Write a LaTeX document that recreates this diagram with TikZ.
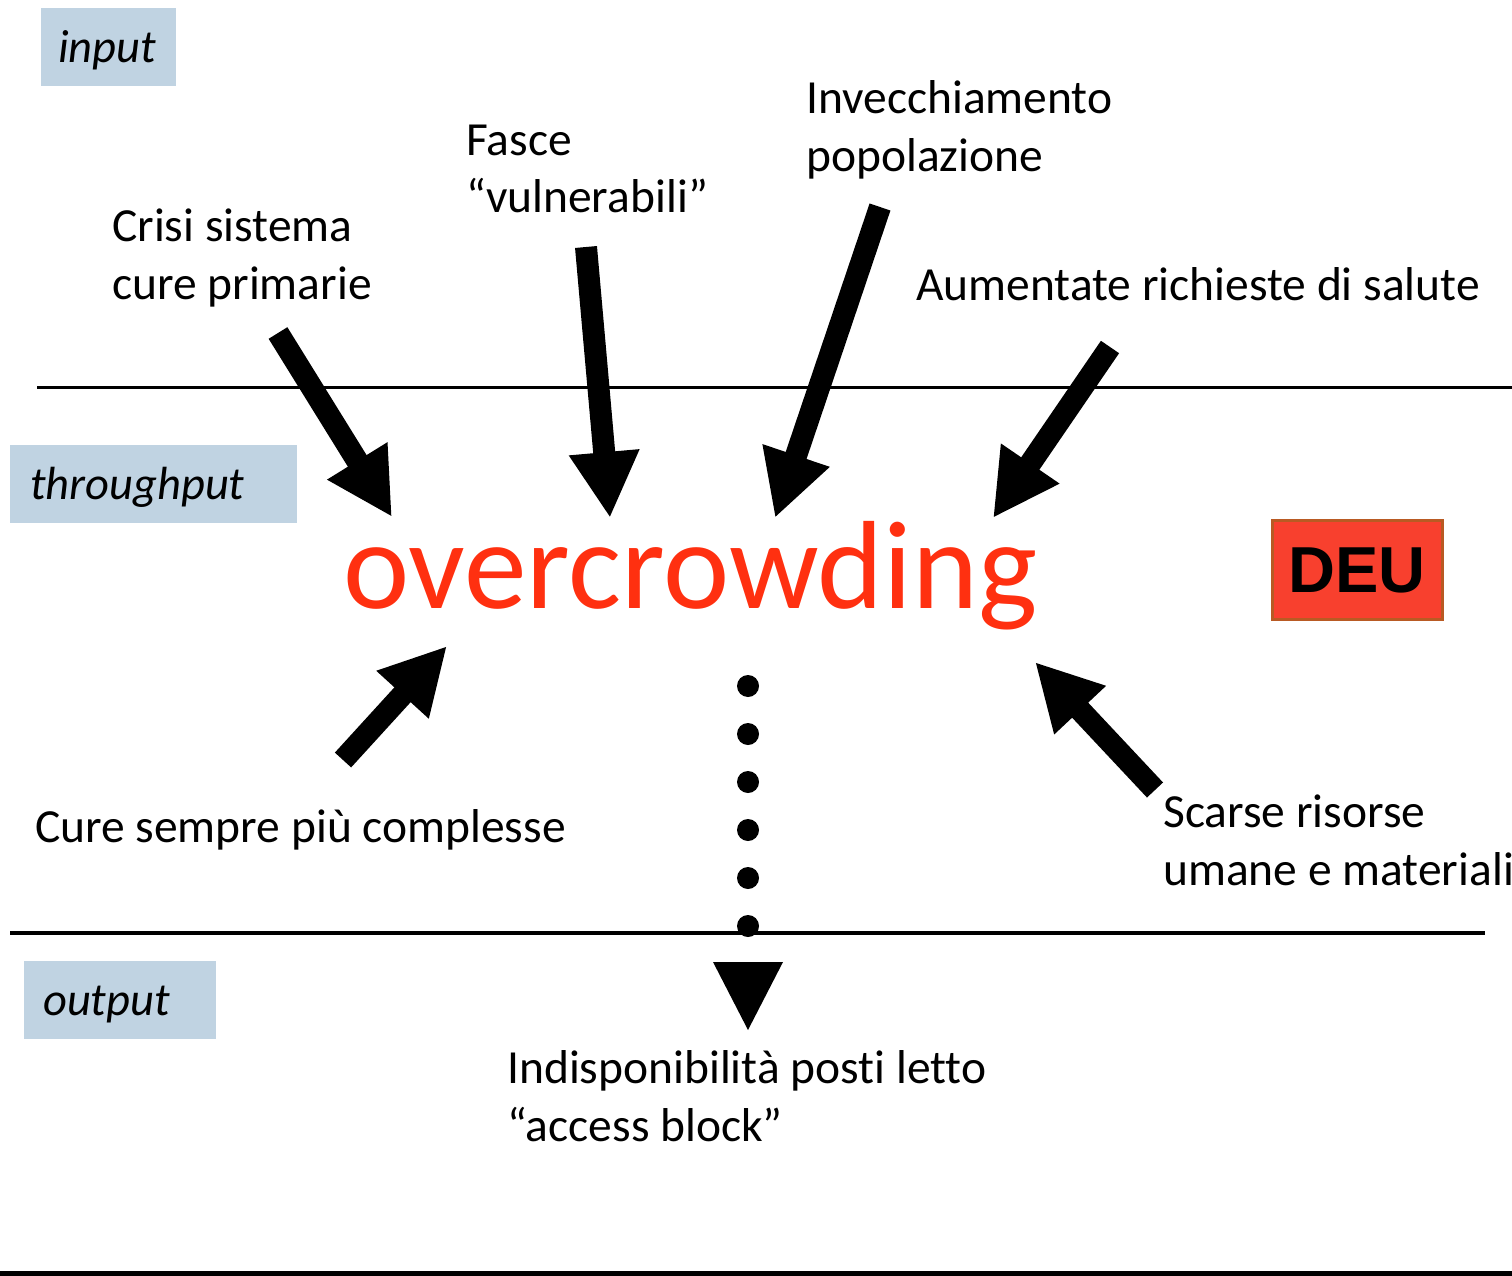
\documentclass[tikz,border=0pt]{standalone}
\usepackage{fontspec}
\setmainfont{Carlito}[Ligatures={NoCommon,TeX}]
\newfontfamily\deufont{Liberation Sans}
\usetikzlibrary{arrows.meta}
\definecolor{boxblue}{RGB}{192,211,226}
\definecolor{crowdred}{RGB}{255,48,16}
\definecolor{deufill}{RGB}{248,64,46}
\definecolor{deuedge}{RGB}{185,90,35}

\begin{document}
\begin{tikzpicture}[x=1pt,y=-1pt,
  txt/.style={anchor=base west, inner sep=0pt, align=left,
    font=\fontsize{47.5}{58}\selectfont, text=black},
  levelbox/.style={fill=boxblue, anchor=north west, inner ysep=0pt, align=left,
    minimum height=78pt, text height=36pt, text depth=6pt,
    font=\fontsize{46.5}{52}\selectfont\itshape},
  fat/.style={line width=22pt, -{Triangle[length=66pt,width=66pt]}},
  rule/.style={line width=3pt}
]
\useasboundingbox (0,0) rectangle (1512,1276);

% level separators
\draw[rule] (37,387) -- (1512,387);
\draw[line width=3.5pt] (10,933) -- (1485,933);
\draw[line width=5pt] (0,1273.5) -- (1512,1273.5);

% level labels
\node[levelbox, minimum width=135pt, inner xsep=17pt, text width=101pt] (lin) at (41,8) {input};
\node[levelbox, minimum width=287pt, inner xsep=20pt, text width=247pt] (lthr) at (10,445) {throughput};
\node[levelbox, minimum width=192pt, inner xsep=19pt, text width=154pt] (lout) at (24,961) {output};

% central term
\node[anchor=base west, inner sep=0pt, text=crowdred, font=\fontsize{125.5}{126}\selectfont] (oc) at (343,608) {overcrowding};

% DEU tag
\node[draw=deuedge, line width=3pt, fill=deufill, minimum width=170pt, minimum height=99pt,
  font=\deufont\bfseries\fontsize{65}{65}\selectfont] (deu) at (1357,570) {DEU};

% causes (anchored at the baseline of the last line)
\node[txt] (crisi) at (112,299) {Crisi sistema\\cure primarie};
\node[txt] (fasce) at (466,213) {Fasce\\“vulnerabili”};
\node[txt] (invec) at (806,172) {Invecchiamento\\popolazione};
\node[txt] (aument) at (916,300) {Aumentate richieste di salute};
\node[txt] (cure) at (35,842) {Cure sempre più complesse};
\node[txt] (scarse) at (1163,885) {Scarse risorse\\umane e materiali};
\node[txt] (indisp) at (507,1141) {Indisponibilità posti letto\\“access block”};

% arrow ends
\coordinate (t1) at (278,333); \coordinate (h1) at (392,517);
\coordinate (t2) at (586,247); \coordinate (h2) at (610,518);
\coordinate (t3) at (880,207); \coordinate (h3) at (775,518);
\coordinate (t4) at (1110,347); \coordinate (h4) at (993,518);
\coordinate (t5) at (343,760); \coordinate (h5) at (447,646);
\coordinate (t6) at (1155,790); \coordinate (h6) at (1035,662);

\draw[fat] (t1) -- (h1);
\draw[fat] (t2) -- (h2);
\draw[fat] (t3) -- (h3);
\draw[fat] (t4) -- (h4);
\draw[fat] (t5) -- (h5);
\draw[fat] (t6) -- (h6);

% dotted link to the output
\coordinate (d0) at (748,686);
\coordinate (d1) at (748,935);
\coordinate (dt) at (748,1030);
\draw[line width=22pt, line cap=round, dash pattern=on 0pt off 48pt] (d0) -- (d1);
\fill ([shift={(-35,-68)}]dt) -- ([shift={(35,-68)}]dt) -- (dt) -- cycle;
\end{tikzpicture}
\end{document}
